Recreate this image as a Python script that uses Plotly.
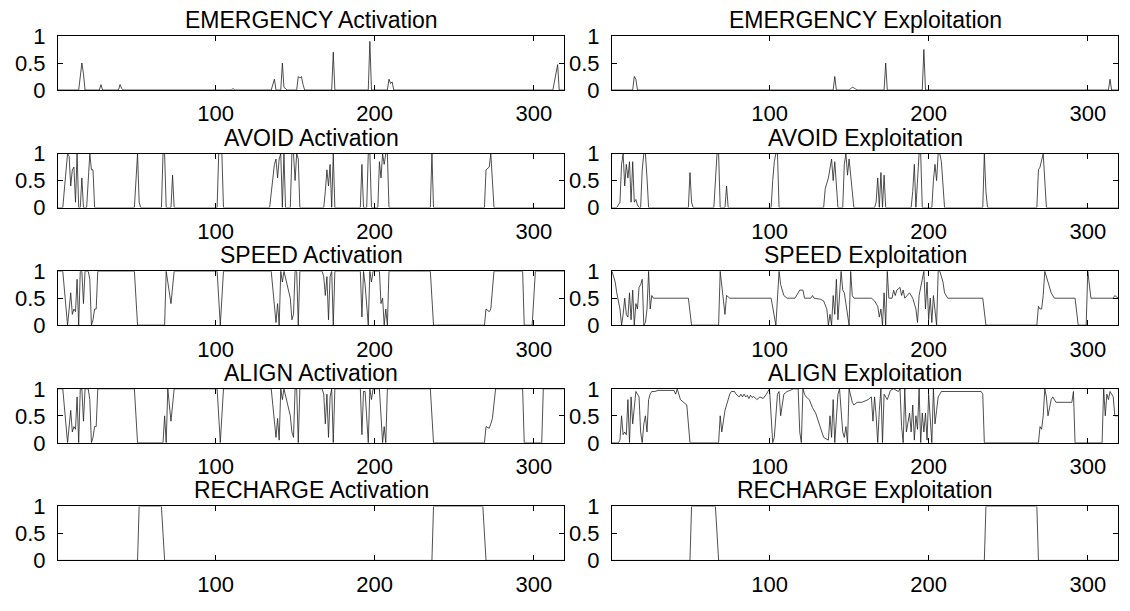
import plotly.graph_objects as go

# ---------------- data (vertex lists: (time step, value)) ----------------
x_ticks = [100, 200, 300]
y_ticks = [0, 0.5, 1]
y_tick_text = ["0", "0.5", "1"]
x_range = [1, 319]

emergency_act = [(1, 0), (14, 0), (16, 0.5), (17, 0.3), (18, 0), (27, 0), (28, 0.1), (29, 0),
                 (39, 0), (40, 0.1), (41, 0.03), (42, 0), (110, 0), (111, 0.03), (112, 0),
                 (135, 0), (137, 0.2), (138, 0), (141, 0), (142, 0.5), (143, 0.05), (144, 0.02), (145, 0),
                 (151, 0), (152, 0.25), (153, 0.22), (154, 0.25), (155, 0.1), (156, 0),
                 (173, 0), (174, 0.7), (175, 0), (196, 0), (197, 0.9), (198, 0),
                 (208, 0), (209, 0.2), (210, 0.12), (211, 0.15), (212, 0),
                 (312, 0), (315, 0.47), (316, 0), (319, 0)]

emergency_exp = [(1, 0), (14, 0), (15, 0.25), (16, 0.2), (17, 0), (140, 0), (141, 0.25), (142, 0),
                 (150, 0), (151, 0.03), (152, 0.05), (153, 0.04), (154, 0.02), (155, 0),
                 (172, 0), (173, 0.5), (174, 0), (196, 0), (197, 0.75), (198, 0),
                 (313, 0), (314, 0.2), (315, 0), (319, 0)]

avoid_act = [(1, 0), (4, 0), (7, 1), (8, 0.95), (9, 0.4), (10, 0.7), (11, 0.75), (12, 0.1), (13, 1),
             (14, 0), (15, 0), (16, 0.55), (17, 0), (19, 0), (21, 1), (22, 0.7), (23, 0.7), (24, 0),
             (49, 0), (51, 1), (52, 0.1), (53, 0), (66, 0), (67, 1), (68, 1), (69, 0), (72, 0), (73, 0.6), (74, 0),
             (101, 0), (102, 1), (104, 1), (105, 0), (134, 0), (137, 0.8), (138, 0.9), (139, 0.55), (140, 0.9),
             (141, 1), (142, 0), (143, 1), (144, 0), (147, 0), (148, 1), (149, 1), (150, 0.5), (151, 1),
             (152, 0.9), (153, 0), (168, 0), (169, 0.3), (170, 0.7), (171, 0.4), (172, 0.8), (173, 0),
             (174, 1), (175, 0), (191, 0), (192, 0.8), (193, 0), (195, 0), (196, 1), (197, 1), (198, 0),
             (202, 0), (203, 0.85), (204, 0.55), (205, 1), (206, 0.8), (207, 1), (208, 1), (209, 0),
             (235, 0), (236, 1), (237, 0), (269, 0), (270, 0.7), (272, 0.75), (273, 1), (274, 0.5),
             (275, 0), (319, 0)]

avoid_exp = [(1, 0), (4, 0), (5, 0.05), (6, 0.1), (7, 0.8), (8, 1), (9, 0.4), (10, 0.8), (11, 0.55),
             (12, 0.85), (13, 0.1), (14, 0.85), (15, 0.1), (16, 0.15), (17, 0.05), (18, 0), (19, 0),
             (20, 0.7), (21, 1), (22, 1), (23, 0.55), (24, 0), (49, 0), (50, 0.65), (51, 0.1), (52, 0),
             (65, 0), (66, 0.5), (67, 1), (68, 1), (69, 0), (72, 0), (73, 0.4), (74, 0),
             (101, 0), (102, 0.5), (103, 0.85), (104, 1), (105, 1), (106, 0),
             (134, 0), (135, 0.35), (137, 0.55), (139, 0.9), (140, 0.5), (141, 0.85), (143, 0),
             (146, 0), (147, 0.8), (148, 1), (149, 0.6), (150, 0.9), (151, 0.55), (153, 0),
             (166, 0), (167, 0.1), (168, 0.55), (169, 0), (170, 0.65), (171, 0), (172, 0.6), (173, 0),
             (189, 0), (190, 0.3), (191, 0.8), (192, 0), (194, 1), (195, 1), (196, 0),
             (202, 0), (203, 0.5), (204, 0.8), (205, 0.5), (206, 1), (207, 1), (208, 0.85), (210, 0),
             (234, 0), (235, 1), (236, 0.3), (237, 0), (268, 0), (269, 0.7), (270, 0.75), (272, 1),
             (273, 0.5), (274, 0), (319, 0)]

speed_act = [(1, 1), (4, 1), (7, 0), (9, 0.6), (10, 0.2), (11, 0.3), (12, 0.25), (13, 0.85), (14, 0),
             (15, 1), (16, 1), (17, 0.4), (18, 1), (20, 1), (21, 0.85), (22, 0), (23, 0.1), (24, 0.3),
             (25, 0.3), (26, 1), (49, 1), (51, 0), (68, 0), (69, 1), (72, 0.4), (74, 1), (101, 1),
             (103, 0), (105, 1), (135, 1), (138, 0.05), (139, 0.4), (140, 0), (141, 1), (142, 0.8),
             (143, 1), (147, 0.5), (148, 0.1), (149, 0.2), (150, 1), (151, 1), (152, 0), (153, 1),
             (167, 1), (168, 0.9), (169, 0.55), (170, 0.9), (171, 0.1), (172, 0.9), (173, 1), (174, 0),
             (175, 1), (191, 1), (192, 0.15), (193, 1), (194, 0.75), (196, 0), (197, 1), (198, 0.8),
             (199, 1), (203, 1), (204, 0.4), (205, 0.5), (206, 0), (207, 0.3), (208, 0), (209, 1),
             (235, 1), (237, 0), (269, 0), (270, 0.3), (271, 0.28), (272, 0.25), (273, 0.3), (275, 1),
             (293, 1), (294, 0), (299, 0), (301, 1), (319, 1)]

speed_exp = [(1, 1), (3, 0.8), (4, 0.6), (6, 0.3), (7, 0), (8, 0.2), (9, 0.5), (10, 0.2), (11, 0.15),
             (12, 0.6), (13, 0.1), (14, 0.65), (15, 0), (16, 0.4), (17, 0.3), (18, 0.7), (19, 0.75),
             (20, 0.85), (21, 0), (22, 0.05), (23, 0.3), (24, 1), (25, 0.3), (26, 0.55), (27, 0.5),
             (49, 0.5), (51, 0), (68, 0), (69, 1), (72, 0.2), (73, 0.55), (75, 0.5), (101, 0.5),
             (104, 0), (106, 1), (107, 0.75), (109, 0.55), (111, 0.5), (116, 0.5), (117, 0.55),
             (118, 0.62), (119, 0.65), (121, 0.65), (122, 0.5), (126, 0.5), (127, 0.55), (128, 0.5),
             (132, 0.48), (134, 0.45), (136, 0.3), (137, 0), (138, 0.2), (139, 0), (140, 0.55),
             (141, 0.2), (142, 0.85), (143, 0.1), (145, 1), (146, 0.65), (147, 0.6), (148, 0.4),
             (149, 0.2), (150, 0), (151, 1), (152, 0.55), (153, 0.5), (164, 0.5), (166, 0.45),
             (168, 0.35), (169, 0.15), (170, 0.3), (171, 0), (172, 0.6), (173, 0), (174, 1),
             (175, 0.5), (177, 0.5), (178, 0.65), (179, 0.55), (180, 0.65), (182, 0.7), (183, 0.55),
             (184, 0.65), (185, 0.5), (188, 0.6), (190, 0.5), (192, 0.3), (193, 0.05), (194, 0.55),
             (196, 0.85), (197, 1), (198, 0.3), (199, 0.8), (200, 0.1), (201, 0.5), (202, 0.05),
             (203, 0.55), (205, 0), (206, 1), (207, 1), (209, 0.8), (210, 0.6), (211, 0.55),
             (212, 0.5), (234, 0.5), (236, 0), (268, 0), (269, 0.35), (270, 0.3), (271, 0.3),
             (272, 0.55), (273, 1), (275, 0.8), (277, 0.6), (279, 0.5), (292, 0.5), (294, 0),
             (299, 0), (300, 1), (302, 0.5), (316, 0.5), (317, 0.55), (319, 0.5)]

align_act = [(1, 1), (4, 1), (7, 0), (9, 0.6), (10, 0.2), (11, 0.3), (12, 0.25), (13, 0.85), (14, 0),
             (15, 1), (16, 1), (17, 0.4), (18, 1), (20, 1), (21, 0.8), (22, 0), (23, 0.1), (24, 0.3),
             (25, 0.3), (26, 1), (49, 1), (51, 0), (67, 0), (68, 0.5), (69, 0), (70, 1), (72, 0.4),
             (74, 1), (101, 1), (103, 0), (105, 1), (135, 1), (138, 0.1), (139, 0.45), (140, 0.05),
             (141, 1), (142, 0.8), (143, 1), (147, 0.5), (148, 0.2), (149, 0.1), (150, 1), (151, 1),
             (152, 0), (153, 1), (167, 1), (168, 0.9), (169, 0.35), (170, 0.9), (171, 0.1),
             (172, 0.85), (173, 1), (174, 0), (175, 1), (191, 1), (192, 0.15), (193, 0.95),
             (194, 0.95), (196, 0), (197, 1), (198, 0.8), (199, 1), (203, 1), (204, 0.5), (205, 0),
             (206, 0.3), (207, 0), (208, 1), (235, 1), (237, 0), (269, 0), (270, 0.3), (272, 0.27),
             (273, 0.35), (274, 0.45), (276, 1), (293, 1), (294, 0), (305, 0), (306, 1), (319, 1)]

align_exp = [(1, 0), (5, 0), (6, 0.05), (7, 0.5), (8, 0.15), (9, 0.2), (10, 0.15), (11, 0.8), (12, 0),
             (13, 0.85), (14, 0.35), (15, 0.6), (16, 0.95), (17, 0.9), (18, 0.85), (19, 0.2), (20, 0),
             (21, 0.35), (22, 0.5), (23, 0.2), (24, 0.8), (25, 0.9), (26, 0.95), (28, 0.95), (30, 0.97),
             (40, 0.97), (41, 0.9), (42, 1), (43, 0.9), (44, 0.8), (46, 0.75), (48, 0.7), (50, 0),
             (68, 0), (69, 0.5), (70, 0.2), (71, 0.4), (72, 0.6), (73, 0.7), (75, 0.9), (76, 0.95),
             (78, 0.95), (79, 0.9), (80, 0.88), (81, 0.85), (82, 0.9), (83, 0.85), (84, 0.9), (85, 0.85),
             (86, 0.88), (87, 0.82), (88, 0.88), (89, 0.84), (90, 0.86), (92, 0.8), (94, 0.85),
             (96, 0.82), (98, 0.9), (100, 1), (101, 0.5), (102, 0), (103, 0.1), (105, 0.9), (106, 0.95),
             (107, 0.5), (109, 0.9), (111, 0.95), (113, 0.97), (115, 1), (118, 1), (119, 0.2), (120, 0),
             (121, 1), (122, 0.9), (123, 0.85), (125, 0.8), (127, 0.65), (129, 0.55), (132, 0.3),
             (134, 0.1), (137, 0.05), (138, 0.5), (139, 0.1), (140, 0.8), (141, 0), (143, 0.9), (144, 1),
             (145, 0.55), (146, 0.2), (147, 0.1), (148, 0.3), (149, 0), (150, 1), (152, 0.75),
             (153, 0.7), (155, 0.75), (158, 0.75), (162, 0.8), (164, 0.85), (165, 0.4), (166, 0.85),
             (167, 0.5), (168, 0), (169, 0.6), (170, 1), (171, 0), (172, 0.9), (173, 0.85), (174, 0.8),
             (176, 0.97), (178, 1), (181, 0.95), (182, 1), (183, 0.3), (184, 0), (185, 1), (186, 0.2),
             (188, 0.55), (189, 0.2), (190, 0.7), (191, 0.05), (192, 0.5), (193, 0.25), (194, 1),
             (195, 0), (196, 0.55), (197, 0.2), (198, 0.55), (199, 0.05), (200, 0.9), (201, 0.5),
             (202, 0), (203, 1), (204, 0.35), (205, 0.6), (206, 0.85), (207, 0.9), (208, 0.95),
             (233, 0.95), (234, 0.9), (235, 0), (269, 0), (270, 0.3), (271, 0.25), (272, 0.5), (273, 1),
             (274, 0.85), (275, 0.5), (276, 0.65), (277, 0.8), (278, 0.85), (280, 0.75), (290, 0.75),
             (291, 0.95), (292, 0), (309, 0), (310, 1), (311, 0.5), (312, 0.9), (313, 0.8), (314, 0.95),
             (316, 0.85), (317, 0.5), (319, 0.5)]

recharge_act = [(1, 0), (51, 0), (52, 1), (66, 1), (68, 0), (236, 0), (237, 1), (268, 1), (270, 0), (319, 0)]
recharge_exp = [(1, 0), (50, 0), (51, 1), (66, 1), (68, 0), (235, 0), (236, 1), (268, 1), (269, 0), (319, 0)]

panel_titles = ["EMERGENCY Activation", "EMERGENCY Exploitation",
                "AVOID Activation", "AVOID Exploitation",
                "SPEED Activation", "SPEED Exploitation",
                "ALIGN Activation", "ALIGN Exploitation",
                "RECHARGE Activation", "RECHARGE Exploitation"]
panel_data = [emergency_act, emergency_exp, avoid_act, avoid_exp, speed_act, speed_exp,
              align_act, align_exp, recharge_act, recharge_exp]

# ---------------- layout ----------------
W, H = 1130, 611
FONT = "Liberation Sans, Arial, Helvetica, sans-serif"
FS_TICK = 22
FS_TITLE = 23
col_px = [(58, 564), (612, 1118)]
row_top = [36 + 117.6 * i for i in range(5)]
box_h = 54

fig = go.Figure()
annotations = []
layout_axes = {}
for k, (title, pts) in enumerate(zip(panel_titles, panel_data)):
    r, c = divmod(k, 2)
    n = k + 1
    sfx = "" if n == 1 else str(n)
    xs = [p[0] for p in pts]
    ys = [p[1] for p in pts]
    fig.add_trace(go.Scatter(x=xs, y=ys, mode="lines",
                             line=dict(color="#222222", width=0.8),
                             xaxis="x" + sfx, yaxis="y" + sfx,
                             showlegend=False, hoverinfo="skip"))
    x0, x1 = col_px[c]
    top = row_top[r]
    bot = top + box_h
    common = dict(showline=True, linecolor="black", linewidth=1, mirror="allticks",
                  ticks="inside", ticklen=5, tickwidth=1, tickcolor="black",
                  showgrid=False, zeroline=False, fixedrange=True, automargin=False,
                  tickfont=dict(family=FONT, size=FS_TICK, color="black"))
    layout_axes["xaxis" + sfx] = dict(domain=[x0 / W, x1 / W], range=x_range,
                                      tickmode="array", tickvals=x_ticks,
                                      anchor="y" + sfx, ticklabelstandoff=4, **common)
    layout_axes["yaxis" + sfx] = dict(domain=[1 - bot / H, 1 - top / H], range=[0, 1],
                                      tickmode="array", tickvals=y_ticks, ticktext=y_tick_text,
                                      anchor="x" + sfx, ticklabelstandoff=7, **common)
    annotations.append(dict(text=title, x=(x0 + x1) / 2 / W, y=1 - (top - 1) / H,
                            xref="paper", yref="paper", xanchor="center", yanchor="bottom",
                            showarrow=False, font=dict(family=FONT, size=FS_TITLE, color="black")))

fig.update_layout(template="none", width=W, height=H, margin=dict(l=0, r=0, t=0, b=0, pad=0),
                  autosize=False, paper_bgcolor="white", plot_bgcolor="white",
                  annotations=annotations, **layout_axes)

fig.write_html("out.html", config={"displayModeBar": False},
               post_script="document.body.style.margin='0px';document.body.style.overflow='hidden';")
